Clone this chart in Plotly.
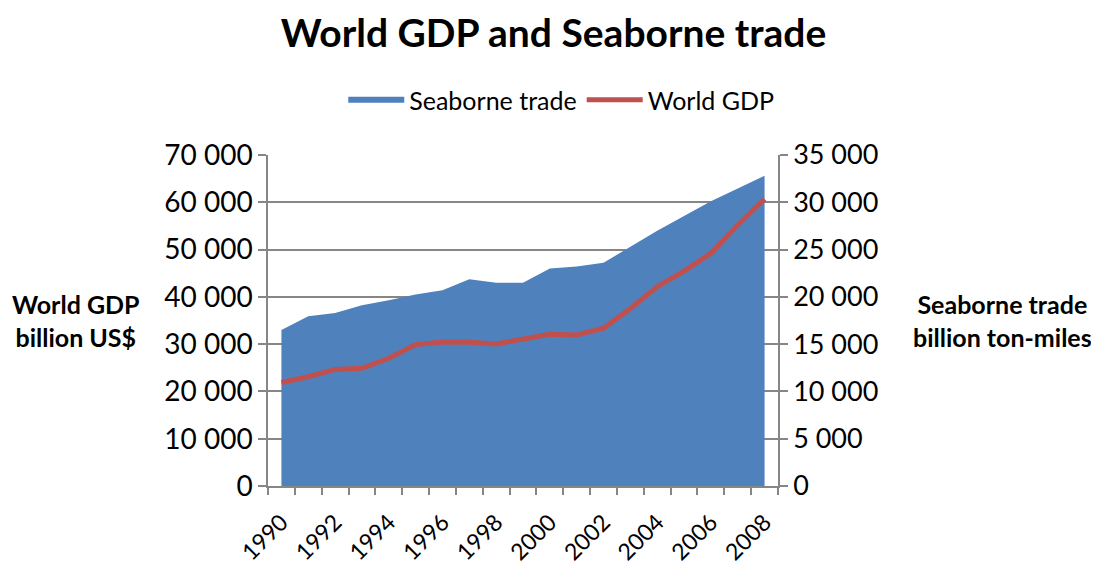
import plotly.graph_objects as go

# data
years = list(range(1990, 2009))
seaborne_trade = [16500, 17950, 18300, 19100, 19650, 20250, 20700, 21850, 21500, 21500,
                  23000, 23200, 23600, 25300, 27000, 28550, 30100, 31450, 32800]
world_gdp = [21900, 23100, 24650, 24900, 27000, 29900, 30450, 30400, 30050, 31000,
             32100, 31950, 33350, 37550, 42150, 45450, 49200, 55200, 60700]
year_labels = [str(y) for y in range(1990, 2009, 2)]

FONT = "Lato, Calibri, Arial, sans-serif"
GRID = "#868686"

fig = go.Figure()

# area on the main axis (right side), so the line (on overlaying axis) sits on top
fig.add_trace(go.Scatter(
    x=years, y=seaborne_trade, name="Seaborne trade",
    mode="none", fill="tozeroy", fillcolor="#4F81BD",
    yaxis="y"
))
fig.add_trace(go.Scatter(
    x=years, y=world_gdp, name="World GDP",
    mode="lines", line=dict(color="#C0504D", width=5),
    yaxis="y2"
))

# page body adds an 8px offset, so the figure is a little smaller than the window
fig.update_layout(
    width=1091, height=555,
    margin=dict(l=260, r=321, t=147, b=77),
    paper_bgcolor="white", plot_bgcolor="white",
    separators=". ",
    font=dict(family=FONT, size=26, color="black"),
    title=dict(text="<b>World GDP and Seaborne trade</b>", x=0.5, xref="container",
               y=1 - 25 / 555, yref="container", yanchor="middle",
               font=dict(size=39, family=FONT, color="black")),
    legend=dict(orientation="h", x=0.575, xanchor="center", y=1.166, yanchor="middle",
                font=dict(size=25, family=FONT), itemwidth=56, traceorder="normal"),
    showlegend=True,
    xaxis=dict(
        range=[1989.5, 2008.5], tickmode="array", tickvals=list(range(1990, 2009, 2)),
        ticktext=year_labels, tickangle=-45, ticks="", showgrid=False,
        showline=True, linecolor=GRID, linewidth=1.5, ticklabelstandoff=12,
        minor=dict(ticks="outside", tick0=1989.5, dtick=1, ticklen=7,
                   tickcolor=GRID, tickwidth=1.5, showgrid=False),
        tickfont=dict(size=23), fixedrange=True, automargin=False,
    ),
    yaxis=dict(
        side="right", range=[0, 35000], dtick=5000, tickformat=",d",
        showgrid=True, gridcolor=GRID, gridwidth=1.5,
        showline=True, linecolor=GRID, linewidth=1.5,
        ticks="outside", ticklen=8, tickcolor=GRID, tickwidth=1.5,
        zeroline=False, tickfont=dict(size=27), automargin=False,
    ),
    yaxis2=dict(
        side="left", overlaying="y", range=[0, 70000], dtick=10000, tickformat=",d",
        showgrid=False, showline=True, linecolor=GRID, linewidth=1.5,
        ticks="outside", ticklen=8, tickcolor=GRID, tickwidth=1.5,
        zeroline=False, tickfont=dict(size=28), automargin=False,
    ),
)

# axis titles drawn horizontally beside each axis
fig.add_annotation(text="<b>World GDP<br>billion US$</b>", xref="paper", yref="paper",
                   x=-0.377, y=0.5, xanchor="center", yanchor="middle",
                   showarrow=False, font=dict(size=25, family=FONT), align="center")
fig.add_annotation(text="<b>Seaborne trade<br>billion ton-miles</b>", xref="paper", yref="paper",
                   x=1.44, y=0.5, xanchor="center", yanchor="middle",
                   showarrow=False, font=dict(size=25, family=FONT), align="center")

fig.write_html("out.html")
